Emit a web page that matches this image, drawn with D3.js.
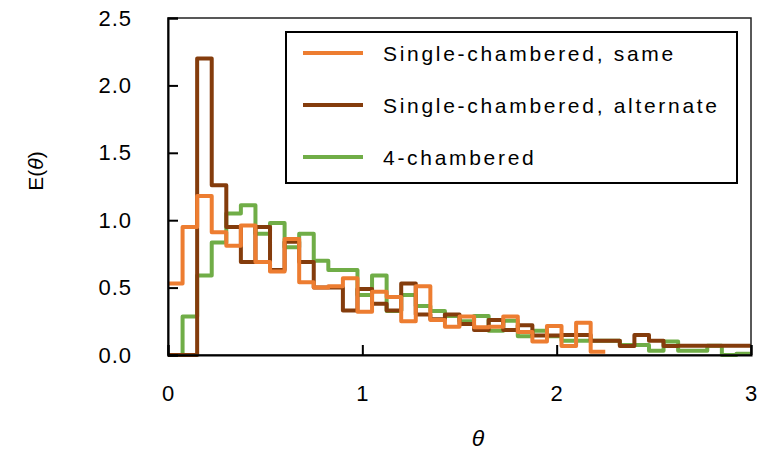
<!DOCTYPE html>
<html>
<head>
<meta charset="utf-8">
<script src="https://cdn.jsdelivr.net/npm/d3@7"></script>
<style>
  body { margin: 0; background: #fff; }
  text { font-family: 'Liberation Sans', Arial, sans-serif; fill: #000; }
</style>
</head>
<body>
<svg id="viz"></svg>
<script>
// bin edges of theta (40 bins)
const thetaEdges = [0, 0.075, 0.15, 0.225, 0.3, 0.375, 0.45, 0.525, 0.6, 0.675,
  0.75, 0.825, 0.9, 0.975, 1.05, 1.125, 1.2, 1.275, 1.35, 1.425,
  1.5, 1.575, 1.65, 1.725, 1.8, 1.875, 1.95, 2.025, 2.1, 2.175,
  2.25, 2.325, 2.4, 2.475, 2.55, 2.625, 2.7, 2.775, 2.85, 2.925, 3.0];

const sameValues = [0.53, 0.95, 1.18, 0.91, 0.81, 0.96, 0.69, 0.62, 0.86, 0.54,
  0.50, 0.51, 0.57, 0.32, 0.47, 0.43, 0.25, 0.51, 0.26, 0.21,
  0.285, 0.205, 0.21, 0.285, 0.17, 0.10, 0.215, 0.067, 0.24, 0.025];

const alternateValues = [0, 0, 2.20, 1.26, 0.95, 0.69, 0.95, 0.63, 0.84, 0.69,
  0.50, 0.50, 0.33, 0.49, 0.38, 0.33, 0.53, 0.30, 0.265, 0.30,
  0.23, 0.186, 0.26, 0.186, 0.22, 0.145, 0.145, 0.149, 0.149, 0.106,
  0.106, 0.067, 0.149, 0.106, 0.067, 0.069, 0.069, 0.069, 0.069, 0.069];

const fourValues = [0, 0.285, 0.59, 0.835, 1.05, 1.11, 0.90, 0.98, 0.80, 0.90,
  0.70, 0.63, 0.63, 0.446, 0.59, 0.327, 0.446, 0.364, 0.327, 0.29,
  0.25, 0.29, 0.18, 0.255, 0.14, 0.18, 0.14, 0.106, 0.106, 0.106,
  0.106, 0.074, 0.074, 0.032, 0.10, 0.032, 0.032, 0.069, 0, 0.01];

const seriesNames = ['Single-chambered, same', 'Single-chambered, alternate', '4-chambered'];
const seriesColors = ['#ED7D31', '#843C0C', '#70AD47'];
const xTicks = [0, 1, 2, 3];
const yTicks = [0, 0.5, 1.0, 1.5, 2.0, 2.5];

const width = 763, height = 455;
const margin = { top: 18, right: 12, bottom: 100, left: 168 };

const svg = d3.select('#viz').attr('width', width).attr('height', height);

// SCALES
const x = d3.scaleLinear().domain([0, 3]).range([margin.left, width - margin.right]);
const y = d3.scaleLinear().domain([0, 2.5]).range([height - margin.bottom, margin.top]);

// step points: each bin value starts at its left edge, last value held to the right edge
const stepPoints = (vals) => {
  const pts = vals.map((v, i) => [thetaEdges[i], v]);
  pts.push([thetaEdges[vals.length], vals[vals.length - 1]]);
  return pts;
};

const line = d3.line()
  .x((d) => x(d[0]))
  .y((d) => y(d[1]))
  .curve(d3.curveStepAfter);

// DATA (drawn back to front)
const series = [
  { values: fourValues, color: seriesColors[2] },
  { values: alternateValues, color: seriesColors[1] },
  { values: sameValues, color: seriesColors[0] }
];

svg.append('g')
  .selectAll('path')
  .data(series)
  .enter()
  .append('path')
  .attr('d', (d) => line(stepPoints(d.values)))
  .attr('fill', 'none')
  .attr('stroke', (d) => d.color)
  .attr('stroke-width', 4)
  .attr('stroke-linejoin', 'round');

// FRAME
svg.append('rect')
  .attr('x', x(0))
  .attr('y', y(2.5))
  .attr('width', x(3) - x(0))
  .attr('height', y(0) - y(2.5))
  .attr('fill', 'none')
  .attr('stroke', '#222')
  .attr('stroke-width', 1.5);

// AXES
const yAxis = svg.append('g')
  .attr('transform', 'translate(' + x(0) + ',0)')
  .call(d3.axisLeft(y).tickValues(yTicks).tickSize(-10).tickPadding(36).tickFormat(d3.format('.1f')));
const xAxis = svg.append('g')
  .attr('transform', 'translate(0,' + y(0) + ')')
  .call(d3.axisBottom(x).tickValues(xTicks).tickSize(-10).tickPadding(30).tickFormat(d3.format('d')));

[yAxis, xAxis].forEach((g) => {
  g.select('.domain').attr('stroke', '#000').attr('stroke-width', 2);
  g.selectAll('.tick line').attr('stroke', '#000').attr('stroke-width', 2);
  g.selectAll('.tick text')
    .style('font-family', "'Liberation Sans', Arial, sans-serif")
    .style('font-size', '22px')
    .style('letter-spacing', '1px')
    .attr('fill', '#000');
});

// LABELS
svg.append('text')
  .attr('x', 478)
  .attr('y', 446)
  .attr('text-anchor', 'middle')
  .style('font-size', '23px')
  .style('font-style', 'italic')
  .text('θ');

const yLab = svg.append('text')
  .attr('transform', 'translate(43,171) rotate(-90)')
  .attr('text-anchor', 'middle')
  .style('font-size', '21px');
yLab.append('tspan').text('E(');
yLab.append('tspan').style('font-style', 'italic').text('θ');
yLab.append('tspan').text(')');

// LEGEND
const legend = svg.append('g');
legend.append('rect')
  .attr('x', 286)
  .attr('y', 32)
  .attr('width', 451)
  .attr('height', 151)
  .attr('fill', '#fff')
  .attr('stroke', '#000')
  .attr('stroke-width', 2);

const legendItems = [
  { name: seriesNames[0], color: seriesColors[0] },
  { name: seriesNames[1], color: seriesColors[1] },
  { name: seriesNames[2], color: seriesColors[2] }
];

legendItems.forEach((d, i) => {
  const ly = 53 + i * 52;
  legend.append('line')
    .attr('x1', 303).attr('x2', 363)
    .attr('y1', ly).attr('y2', ly)
    .attr('stroke', d.color)
    .attr('stroke-width', 4);
  legend.append('text')
    .attr('x', 383)
    .attr('y', ly + 8)
    .style('font-size', '21px')
    .style('letter-spacing', '2.7px')
    .text(d.name);
});
</script>
</body>
</html>
